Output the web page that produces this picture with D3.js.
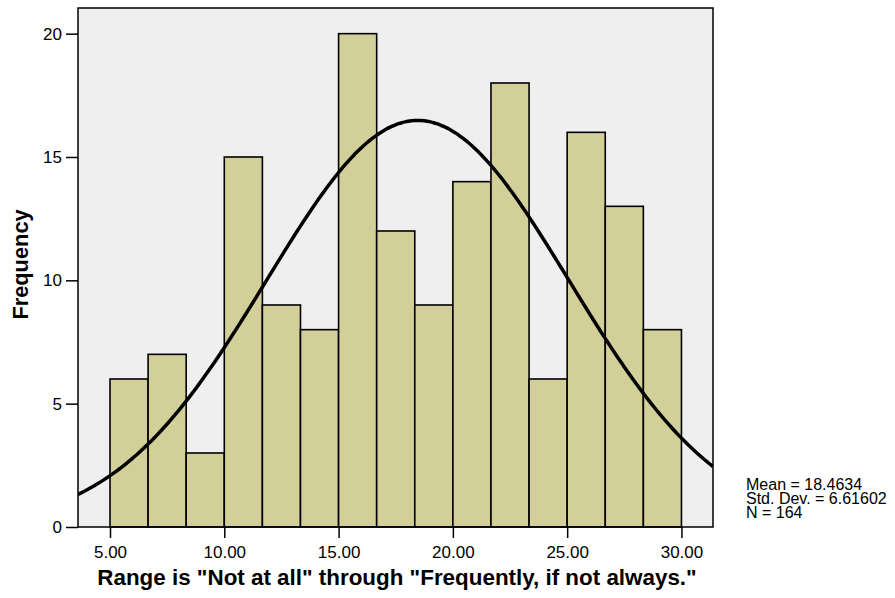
<!DOCTYPE html>
<html>
<head>
<meta charset="utf-8">
<script src="https://cdn.jsdelivr.net/npm/d3@7"></script>
<style>
  body { margin: 0; background: #fff; }
  text { font-family: "Liberation Sans", Arial, sans-serif; fill: #000; }
</style>
</head>
<body>
<svg id="chart" width="895" height="598"></svg>
<script>
// bin edges run from 5 to 30 in 15 equal bins
const binStart = 5
const binEnd = 30
const counts = [6, 7, 3, 15, 9, 8, 20, 12, 9, 14, 18, 6, 16, 13, 8]
const xTicks = [5, 10, 15, 20, 25, 30]
const yTicks = [0, 5, 10, 15, 20]
const mean = 18.4634
const stdDev = 6.61602
const n = 164
const statLines = ['Mean = 18.4634', 'Std. Dev. = 6.61602', 'N = 164']

const margin = { top: 8, right: 182, bottom: 71, left: 78 }
const width = 895 - margin.left - margin.right
const height = 598 - margin.top - margin.bottom

const svg = d3.select('#chart')
const g = svg.append('g')
  .attr('transform', `translate(${margin.left},${margin.top})`)

const x = d3.scaleLinear().domain([3.6, 31.38]).range([0, width])
const y = d3.scaleLinear().domain([0, 21.04]).range([height, 0])

const binWidth = (binEnd - binStart) / counts.length
const bins = counts.map(function (c, i) {
  return { x0: binStart + i * binWidth, x1: binStart + (i + 1) * binWidth, count: c }
})

g.append('rect')
  .attr('width', width)
  .attr('height', height)
  .attr('fill', '#efefef')

g.append('clipPath').attr('id', 'plot-clip')
  .append('rect').attr('width', width).attr('height', height)

g.selectAll('rect.bar')
  .data(bins)
  .enter()
  .append('rect')
    .attr('class', 'bar')
    .attr('x', function (d) { return x(d.x0) })
    .attr('y', function (d) { return y(d.count) })
    .attr('width', function (d) { return x(d.x1) - x(d.x0) })
    .attr('height', function (d) { return y(0) - y(d.count) })
    .attr('fill', '#d3cf99')
    .attr('stroke', '#000')
    .attr('stroke-width', 1.6)

// fitted normal curve, scaled to frequency per bin
const scale = n * binWidth / (stdDev * Math.sqrt(2 * Math.PI))
const curveXs = d3.range(0, 201).map(function (i) {
  return x.domain()[0] + i * (x.domain()[1] - x.domain()[0]) / 200
})
const line = d3.line()
  .x(function (v) { return x(v) })
  .y(function (v) { return y(scale * Math.exp(-0.5 * Math.pow((v - mean) / stdDev, 2))) })
  .curve(d3.curveBasis)

g.append('path')
  .datum(curveXs)
  .attr('clip-path', 'url(#plot-clip)')
  .attr('d', line)
  .attr('fill', 'none')
  .attr('stroke', '#000')
  .attr('stroke-width', 3.5)

g.append('rect')
  .attr('width', width)
  .attr('height', height)
  .attr('fill', 'none')
  .attr('stroke', '#000')
  .attr('stroke-width', 1.5)

const xAxis = g.append('g')
  .attr('transform', `translate(0,${height})`)
  .call(d3.axisBottom(x).tickValues(xTicks).tickSize(11).tickPadding(8)
    .tickFormat(d3.format('.2f')))
const yAxis = g.append('g')
  .call(d3.axisLeft(y).tickValues(yTicks).tickSize(12).tickPadding(4)
    .tickFormat(d3.format('d')))

;[xAxis, yAxis].forEach(function (a) {
  a.select('.domain').remove()
  a.selectAll('line').attr('stroke', '#000').attr('stroke-width', 1.5)
  a.selectAll('text')
    .style('font-family', '"Liberation Sans", Arial, sans-serif')
    .style('font-size', '17px')
})

g.append('text')
  .attr('x', 319)
  .attr('y', height + 57.5)
  .attr('text-anchor', 'middle')
  .style('font-size', '22.4px')
  .style('font-weight', 'bold')
  .text('Range is "Not at all" through "Frequently, if not always."')

g.append('text')
  .attr('transform', `translate(${-50},${height / 2 - 3}) rotate(-90)`)
  .attr('text-anchor', 'middle')
  .style('font-size', '21.8px')
  .style('font-weight', 'bold')
  .text('Frequency')

svg.append('text')
  .attr('x', 746)
  .attr('y', 490)
  .style('font-size', '16px')
  .selectAll('tspan')
  .data(statLines)
  .enter()
  .append('tspan')
    .attr('x', 746)
    .attr('dy', function (d, i) { return i === 0 ? 0 : 14 })
    .text(function (d) { return d })
</script>
</body>
</html>
